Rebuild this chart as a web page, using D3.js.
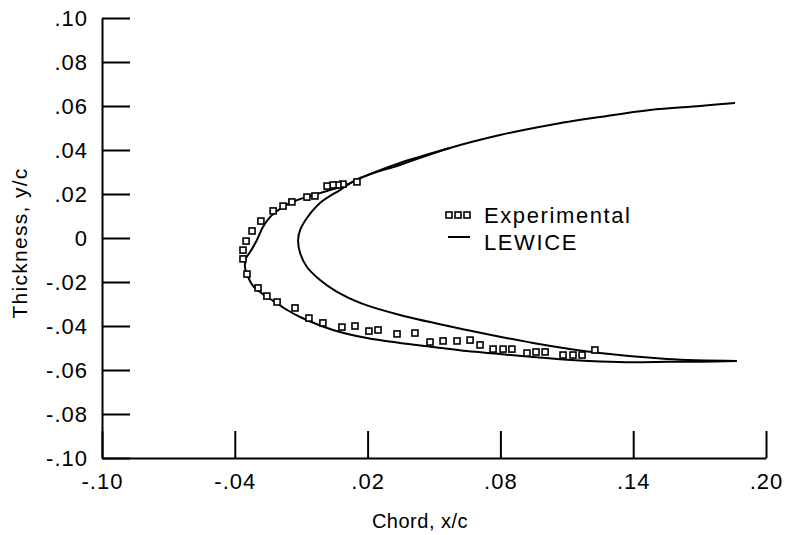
<!DOCTYPE html>
<html>
<head>
<meta charset="utf-8">
<script src="https://cdn.jsdelivr.net/npm/d3@7"></script>
<style>
  body { margin: 0; background: #fff; }
  svg text { font-family: "Liberation Sans", Arial, Helvetica, sans-serif; fill: #000; }
</style>
</head>
<body>
<script>
// clean airfoil leading edge (inner curve)
var airfoilX = [0.1860, 0.1702, 0.1476, 0.1250, 0.1024, 0.0798, 0.0572, 0.0346, 0.0166, 0.0075, -0.0015,
  -0.0074, -0.0105, -0.0114, -0.0105, -0.0074, -0.0015, 0.0062, 0.0166, 0.0346, 0.0649, 0.0947, 0.1250, 0.1553, 0.1869]
var airfoilY = [0.0614, 0.0600, 0.0582, 0.0550, 0.0514, 0.0468, 0.0409, 0.0332, 0.0273, 0.0218, 0.0159,
  0.0091, 0.0036, -0.0009, -0.0068, -0.0132, -0.0191, -0.0245, -0.0295, -0.0350, -0.0418, -0.0477, -0.0523, -0.0550, -0.0559]

// LEWICE ice shape (outer curve)
var lewiceX = [0.0572, 0.0346, 0.0179, 0.0089, 0.0017, -0.0047, -0.0105, -0.0151, -0.0196, -0.0241, -0.0273,
  -0.0300, -0.0331, -0.0349, -0.0354, -0.0340, -0.0318, -0.0273, -0.0227, -0.0164, -0.0105, 0.0044, 0.0197,
  0.0346, 0.0496, 0.0649, 0.0798, 0.0947, 0.1101, 0.1250, 0.1399, 0.1553, 0.1702, 0.1869]
var lewiceY = [0.0409, 0.0341, 0.0277, 0.0236, 0.0214, 0.0195, 0.0177, 0.0159, 0.0132, 0.0095, 0.0050,
  -0.0009, -0.0064, -0.0091, -0.0132, -0.0177, -0.0218, -0.0255, -0.0286, -0.0327, -0.0359, -0.0418, -0.0455,
  -0.0477, -0.0495, -0.0514, -0.0527, -0.0541, -0.0553, -0.0561, -0.0565, -0.0563, -0.0562, -0.0559]

// experimental ice shape
var expX = [0.0152, 0.0089, 0.0066, 0.0044, 0.0017, -0.0038, -0.0074, -0.0142, -0.0182, -0.0227, -0.0282,
  -0.0322, -0.0349, -0.0363, -0.0363, -0.0345, -0.0295, -0.0255, -0.0209, -0.0128, -0.0065, -0.0002, 0.0084,
  0.0143, 0.0206, 0.0247, 0.0333, 0.0414, 0.0482, 0.0541, 0.0604, 0.0663, 0.0708, 0.0767, 0.0812, 0.0852,
  0.0920, 0.0961, 0.1002, 0.1083, 0.1128, 0.1169, 0.1227]
var expY = [0.0255, 0.0245, 0.0241, 0.0241, 0.0236, 0.0191, 0.0186, 0.0164, 0.0145, 0.0123, 0.0077,
  0.0032, -0.0014, -0.0055, -0.0095, -0.0164, -0.0227, -0.0264, -0.0291, -0.0318, -0.0364, -0.0386, -0.0405,
  -0.0400, -0.0423, -0.0418, -0.0436, -0.0432, -0.0473, -0.0468, -0.0468, -0.0464, -0.0486, -0.0505, -0.0505, -0.0505,
  -0.0523, -0.0518, -0.0518, -0.0532, -0.0532, -0.0532, -0.0509]

var xTicks = [-0.10, -0.04, 0.02, 0.08, 0.14, 0.20]
var yTicks = [-0.10, -0.08, -0.06, -0.04, -0.02, 0, 0.02, 0.04, 0.06, 0.08, 0.10]
var legendLabels = ["Experimental", "LEWICE"]

var margin = {top: 18, right: 20, bottom: 77, left: 102},
  width = 786 - margin.left - margin.right,
  height = 535 - margin.top - margin.bottom;

var svg = d3.select("body").append("svg")
  .attr("width", 786)
  .attr("height", 535)
 .append("g")
  .attr("transform", "translate(" + margin.left + "," + margin.top + ")");

var x = d3.scaleLinear().domain([-0.10, 0.20]).range([0, 664])
var y = d3.scaleLinear().domain([-0.10, 0.10]).range([height, 0])

// labels like .02 and -.10
function fmt(d) {
  if (Math.abs(d) < 1e-9) return "0";
  return (d < 0 ? "-" : "") + Math.abs(d).toFixed(2).slice(1);
}

var xAxis = svg.append("g")
  .attr("transform", "translate(0," + height + ")")
  .call(d3.axisBottom(x).tickValues(xTicks).tickFormat(fmt).tickSize(-27).tickSizeOuter(0).tickPadding(15))
var yAxis = svg.append("g")
  .call(d3.axisLeft(y).tickValues(yTicks).tickFormat(fmt).tickSize(-28).tickSizeOuter(0).tickPadding(14))

svg.selectAll(".domain, .tick line").attr("stroke", "#000").attr("stroke-width", 2)
svg.selectAll(".tick text")
  .style("font-size", "22px")
  .style("letter-spacing", "1px")
  .attr("fill", "#000")

var line = d3.line()
  .x(function(d) { return x(d[0]) })
  .y(function(d) { return y(d[1]) })
  .curve(d3.curveCatmullRom)

svg.append("path")
  .datum(d3.zip(airfoilX, airfoilY))
  .attr("d", line)
  .attr("fill", "none").attr("stroke", "#000").attr("stroke-width", 2)

svg.append("path")
  .datum(d3.zip(lewiceX, lewiceY))
  .attr("d", line)
  .attr("fill", "none").attr("stroke", "#000").attr("stroke-width", 2)

svg.selectAll(".exp")
  .data(d3.zip(expX, expY))
  .enter()
  .append("rect")
  .attr("class", "exp")
  .attr("x", function(d) { return x(d[0]) - 3 })
  .attr("y", function(d) { return y(d[1]) - 3 })
  .attr("width", 6).attr("height", 6)
  .attr("fill", "#fff").attr("stroke", "#000").attr("stroke-width", 1.6)

// legend
var legend = svg.append("g").attr("transform", "translate(344,197)")
legend.selectAll("rect")
  .data([0, 1, 2])
  .enter()
  .append("rect")
  .attr("x", function(d) { return d * 9 })
  .attr("y", -3)
  .attr("width", 6).attr("height", 6)
  .attr("fill", "#fff").attr("stroke", "#000").attr("stroke-width", 1.6)
legend.append("line")
  .attr("x1", 2).attr("x2", 24).attr("y1", 22).attr("y2", 22)
  .attr("stroke", "#000").attr("stroke-width", 2)
legend.selectAll("text")
  .data(legendLabels)
  .enter()
  .append("text")
  .attr("x", 38)
  .attr("y", function(d, i) { return 8 + i * 27 })
  .style("font-size", "22px")
  .style("letter-spacing", "1.6px")
  .text(function(d) { return d })

svg.append("text")
  .attr("x", 318)
  .attr("y", height + 70)
  .attr("text-anchor", "middle")
  .style("font-size", "20px")
  .style("letter-spacing", "0.5px")
  .text("Chord, x/c");

svg.append("g")
  .attr("transform", "translate(-75," + (height / 2 + 5) + ")")
  .append("text")
  .attr("text-anchor", "middle")
  .attr("transform", "rotate(-90)")
  .style("font-size", "21px")
  .style("letter-spacing", "1.3px")
  .text("Thickness, y/c");
</script>
</body>
</html>
